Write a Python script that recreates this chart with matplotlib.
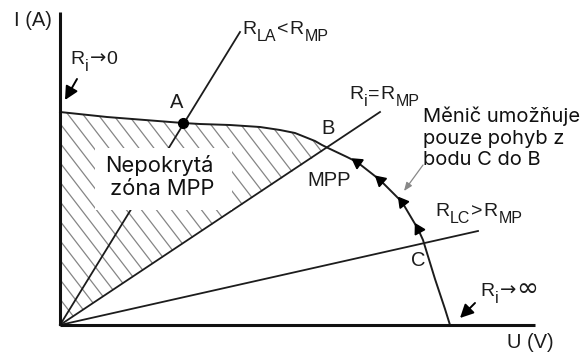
import matplotlib
matplotlib.use("Agg")
import matplotlib.pyplot as plt
from matplotlib.patches import Polygon, Rectangle
import numpy as np

# I-V characteristic of the PV panel (U, I in drawing units)
curve_u = [0, 47, 123, 140, 170, 200, 220, 235, 245, 255, 262, 268, 287, 297, 320, 342, 358, 363, 375, 385, 390]
curve_i = [213, 208, 202, 201, 200, 198, 195, 192, 188, 184, 180, 177, 168, 163, 145, 123, 96, 85, 46, 16, 0]

# operating points on the characteristic
pt_a = (123, 202)
pt_b = (268, 177)
pt_c = (363, 85)

# load lines from the origin (end points)
line_la = (180, 293)
line_mp = (320, 213)
line_lc = (418, 94)

# direction arrows on the curve between C and B
arrow_u = [297, 320, 342, 358]

axis_u_max = 475
axis_i_max = 313

fig = plt.figure(figsize=(5.87, 3.56), dpi=100)
ax = fig.add_axes([0, 0, 1, 1])
ax.set_xlim(-60, 527)
ax.set_ylim(-31, 325)
ax.axis("off")

dark = "#1c1c1c"
lab_font = ["Liberation Sans", "DejaVu Sans"]
sym_font = ["DejaVu Sans"]
txt_font = ["Inter", "Liberation Sans", "DejaVu Sans"]

# hatched zone: y-axis, curve up to B, and the R_MP line back to origin
idx_b = curve_u.index(pt_b[0])
hx = [0] + curve_u[: idx_b + 1] + [0]
hy = [0] + curve_i[: idx_b + 1] + [0]
zone = Polygon(np.column_stack([hx, hy]), closed=True, facecolor="none",
               edgecolor="none", linewidth=0, zorder=1)
ax.add_patch(zone)
slope = 1.3
for c in np.arange(-40, 560, 15):
    ln, = ax.plot([c - 300 / slope, c + 60 / slope], [300, -60], color="#858585",
                  lw=0.9, zorder=1)
    ln.set_clip_path(zone)

# load lines
for end in (line_la, line_mp, line_lc):
    ax.plot([0, end[0]], [0, end[1]], color=dark, lw=1.3, zorder=2)

# characteristic
ax.plot(curve_u, curve_i, color=dark, lw=1.4, zorder=3, solid_joinstyle="round")

# axes
ax.plot([0, 0], [0, axis_i_max], color="#111", lw=2.2, zorder=4, solid_capstyle="butt")
ax.plot([0, axis_u_max], [0, 0], color="#111", lw=2.2, zorder=4, solid_capstyle="butt")

# point A
ax.plot(*pt_a, "o", color="#000", ms=7, zorder=5)

# arrows along the curve towards B (triangle markers turned along the curve)
for u in arrow_u:
    j = curve_u.index(u)
    du = curve_u[j - 1] - curve_u[j + 1]
    di = curve_i[j - 1] - curve_i[j + 1]
    ang = np.degrees(np.arctan2(di, du)) - 90
    ax.plot(u, curve_i[j], marker=(3, 0, ang), color="#000", ms=9, zorder=6, ls="none")

# white label box
ax.add_patch(Rectangle((35, 115), 137, 62, facecolor="white", edgecolor="none", zorder=7))
ax.text(45, 160, "Nepokrytá", fontsize=15.8, family=txt_font, color="#111", va="center", zorder=8)
ax.text(50, 136, "zóna MPP", fontsize=15.8, family=txt_font, color="#111", va="center", zorder=8)

# axis titles
ax.text(-46, 305, "I (A)", fontsize=14.5, family=lab_font, color=dark, va="center")
ax.text(447, -18, "U (V)", fontsize=14.5, family=lab_font, color=dark, va="center")


def sub_label(x, y, parts):
    """Write a label made of pieces; each piece is (text, size, drop in points, family)."""
    first = ax.text(x, y, parts[0][0], fontsize=parts[0][1], family=lab_font,
                    color=dark, va="bottom")
    prev = first
    for txt, size, drop, fam in parts[1:]:
        prev = ax.annotate(txt, xy=(1, 0), xycoords=(prev, first), xytext=(0.6, -drop),
                           textcoords="offset points", fontsize=size, family=fam,
                           color=dark, va="bottom")
    return first


R, S = 14, 11.5
sub_label(10, 257, [("R", R, 0), ("i", S, 4, lab_font), ("→", R, 0, sym_font),
                    ("0", R, 0, lab_font)])
sub_label(182, 287, [("R", R, 0), ("LA", S, 4, lab_font), ("<", R, 0, lab_font),
                     ("R", R, 0, lab_font), ("MP", S, 4, lab_font)])
sub_label(289, 222, [("R", R, 0), ("i", S, 4, lab_font), ("=", R, 0, lab_font),
                     ("R", R, 0, lab_font), ("MP", S, 4, lab_font)])
sub_label(375, 105, [("R", R, 0), ("LC", S, 4, lab_font), (">", R, 0, lab_font),
                     ("R", R, 0, lab_font), ("MP", S, 4, lab_font)])
sub_label(420, 25, [("R", R, 0), ("i", S, 4, lab_font), ("→", R, 0, sym_font),
                    ("∞", 19, 1.5, sym_font)])

# point letters
ax.text(117, 223, "A", fontsize=14.5, family=lab_font, color=dark, ha="center", va="center")
ax.text(268, 197, "B", fontsize=14.5, family=lab_font, color=dark, ha="center", va="center")
ax.text(358, 65, "C", fontsize=14.5, family=lab_font, color=dark, ha="center", va="center")
ax.text(269, 144, "MPP", fontsize=14.5, family=lab_font, color=dark, ha="center", va="center")

# limit arrows
ax.annotate("", xy=(5, 225), xytext=(17, 246),
            arrowprops=dict(arrowstyle="-|>,head_length=0.8,head_width=0.4", color="#000", lw=1.4,
                            shrinkA=0, shrinkB=0))
ax.annotate("", xy=(400, 7), xytext=(415, 22),
            arrowprops=dict(arrowstyle="-|>,head_length=0.8,head_width=0.4", color="#000", lw=1.4,
                            shrinkA=0, shrinkB=0))

# converter note with pointer
ax.text(363, 187, "Měnič umožňuje\npouze pohyb z\nbodu C do B", fontsize=14.5, family=txt_font,
        color="#111", va="center", linespacing=1.25)
ax.annotate("", xy=(344, 134), xytext=(363, 160),
            arrowprops=dict(arrowstyle="-|>,head_length=0.5,head_width=0.2", color="#888", lw=0.9,
                            shrinkA=0, shrinkB=0))

fig.savefig("out.png", dpi=100)
